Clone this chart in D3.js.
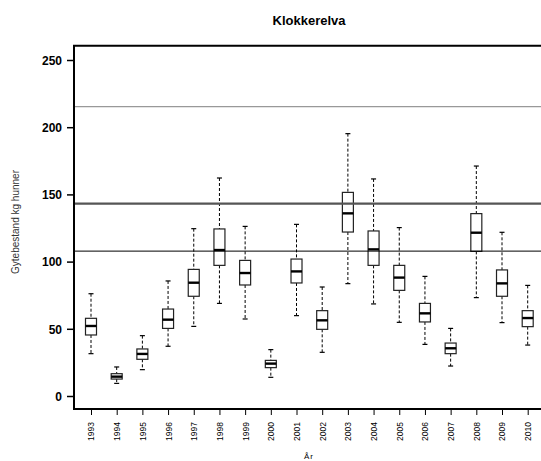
<!DOCTYPE html>
<html>
<head>
<meta charset="utf-8">
<script src="https://cdn.jsdelivr.net/npm/d3@7"></script>
<style>
  body { margin: 0; background: #fff; }
  svg { display: block; font-family: "Liberation Sans", Arial, sans-serif; }
</style>
</head>
<body>
<svg id="chart" width="541" height="461"></svg>
<script>
// years on the x axis
const years = ["1993","1994","1995","1996","1997","1998","1999","2000","2001",
  "2002","2003","2004","2005","2006","2007","2008","2009","2010"]

// five-number summaries
const whiskLow = [31.5, 9.4, 19.6, 37, 51.8, 68.9, 57.3, 13.9, 59.8, 32.5, 83.6, 68.5, 54.8, 38.4, 22.3, 73.2, 54.6, 37.9]
const q1 = [45.4, 12.6, 27.3, 50.3, 74.2, 97.2, 82.6, 21.1, 84.1, 49.6, 122, 97.2, 78.6, 55.1, 31.5, 107.6, 74.2, 51.6]
const median = [52.1, 14.4, 31.3, 56.8, 84.3, 108.6, 91.5, 24.1, 92.7, 56.3, 135.9, 109.1, 88.1, 61.5, 35.5, 121.5, 83.8, 58]
const q3 = [57.8, 16.6, 35, 64.7, 94.2, 124.3, 100.9, 26.5, 101.9, 63.5, 151.5, 122.8, 97.2, 68.9, 39.4, 135.7, 93.8, 63.5]
const whiskHigh = [76.1, 21.6, 44.9, 85.6, 124.5, 162.2, 126.2, 34.5, 127.7, 81.1, 195.2, 161.5, 125.3, 89, 50.3, 171.1, 121.8, 82.3]

// reference levels
const refLines = [215.3, 143.2, 107.8]
const refColors = ["#999", "#555", "#000"]
const refWidths = [1.2, 2.2, 1]

const yTicks = [0, 50, 100, 150, 200, 250]

const svg = d3.select("#chart")
const mLeft = 74, mTop = 45.7, mBottom = 409, mRight = 545

const x = d3.scalePoint().domain(years).range([91, 527.7])
const y = d3.scaleLinear().domain([0, 250]).range([396, 60])

const boxes = years.map((yr, i) => ({
  year: yr, lo: whiskLow[i], q1: q1[i], med: median[i], q3: q3[i], hi: whiskHigh[i]
}))

const bw = 11, cap = 5

const g = svg.append("g").attr("id", "boxes")
const b = g.selectAll("g").data(boxes).enter().append("g")

// whiskers
b.append("line")
  .attr("x1", d => x(d.year)).attr("x2", d => x(d.year))
  .attr("y1", d => y(d.hi)).attr("y2", d => y(d.q3))
  .attr("stroke", "#000").attr("stroke-width", 1).attr("stroke-dasharray", "3,2")
b.append("line")
  .attr("x1", d => x(d.year)).attr("x2", d => x(d.year))
  .attr("y1", d => y(d.q1)).attr("y2", d => y(d.lo))
  .attr("stroke", "#000").attr("stroke-width", 1).attr("stroke-dasharray", "3,2")
b.append("line")
  .attr("x1", d => x(d.year) - cap / 2).attr("x2", d => x(d.year) + cap / 2)
  .attr("y1", d => y(d.hi)).attr("y2", d => y(d.hi))
  .attr("stroke", "#000").attr("stroke-width", 1.2)
b.append("line")
  .attr("x1", d => x(d.year) - cap / 2).attr("x2", d => x(d.year) + cap / 2)
  .attr("y1", d => y(d.lo)).attr("y2", d => y(d.lo))
  .attr("stroke", "#000").attr("stroke-width", 1.2)

// boxes
b.append("rect")
  .attr("x", d => x(d.year) - bw / 2)
  .attr("y", d => y(d.q3))
  .attr("width", bw)
  .attr("height", d => y(d.q1) - y(d.q3))
  .attr("fill", "#fff").attr("stroke", "#222").attr("stroke-width", 1.2)
b.append("line")
  .attr("x1", d => x(d.year) - bw / 2).attr("x2", d => x(d.year) + bw / 2)
  .attr("y1", d => y(d.med)).attr("y2", d => y(d.med))
  .attr("stroke", "#000").attr("stroke-width", 2.4)

// reference lines drawn over the boxes
svg.append("g").selectAll("line").data(refLines).enter().append("line")
  .attr("x1", mLeft).attr("x2", mRight)
  .attr("y1", d => y(d)).attr("y2", d => y(d))
  .attr("stroke", (d, i) => refColors[i]).attr("stroke-width", (d, i) => refWidths[i])

// frame
svg.append("path")
  .attr("d", `M${mRight},${mTop}H${mLeft}V${mBottom}H${mRight}`)
  .attr("fill", "none").attr("stroke", "#000").attr("stroke-width", 2)

// y axis
const yAxis = svg.append("g").attr("transform", `translate(${mLeft},0)`)
  .call(d3.axisLeft(y).tickValues(yTicks).tickSize(7).tickPadding(5))
yAxis.select(".domain").remove()
yAxis.selectAll("line").attr("stroke-width", 1.5)
yAxis.selectAll("text").attr("font-size", 12).attr("font-weight", "bold")
  .attr("font-family", "Liberation Sans, Arial, sans-serif").attr("dy", "0.36em")

// x axis
const xAxis = svg.append("g").attr("transform", `translate(0,${mBottom})`)
  .call(d3.axisBottom(x).tickSize(6).tickPadding(0))
xAxis.select(".domain").remove()
xAxis.selectAll("text")
  .attr("font-size", 8.5)
  .attr("font-family", "Liberation Sans, Arial, sans-serif")
  .attr("transform", "rotate(-90)")
  .attr("text-anchor", "end")
  .attr("x", -13).attr("y", 0).attr("dy", "0.35em")

// titles
svg.append("text").attr("x", 309).attr("y", 25).attr("text-anchor", "middle")
  .attr("font-size", 13).attr("font-weight", "bold").text("Klokkerelva")
svg.append("text").attr("x", 309).attr("y", 459).attr("text-anchor", "middle")
  .attr("font-size", 8).attr("letter-spacing", 1).text("År")
svg.append("text").attr("transform", "translate(19,222) rotate(-90)")
  .attr("text-anchor", "middle").attr("font-size", 10).attr("fill", "#333")
  .text("Gytebestand kg hunner")
</script>
</body>
</html>
